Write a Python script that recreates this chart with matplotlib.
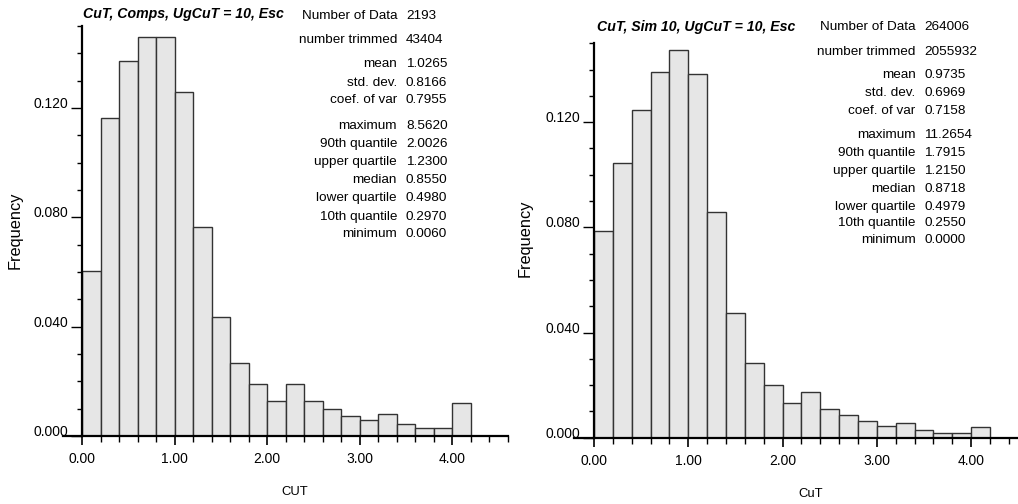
import matplotlib
matplotlib.use("Agg")
import matplotlib.pyplot as plt
from matplotlib import font_manager
from matplotlib.ticker import MultipleLocator, FixedLocator

# ---- data -------------------------------------------------------------
bin_width = 0.2
comps_freq = [0.0605, 0.1165, 0.1371, 0.1461, 0.1461, 0.1258, 0.0764, 0.0437,
              0.0267, 0.0191, 0.0129, 0.0191, 0.0129, 0.0100, 0.0072, 0.0057,
              0.0082, 0.0045, 0.0030, 0.0030, 0.0122]
sim_freq = [0.0787, 0.1046, 0.1245, 0.1390, 0.1473, 0.1384, 0.0858, 0.0476,
            0.0286, 0.0199, 0.0132, 0.0174, 0.0111, 0.0088, 0.0063, 0.0044,
            0.0057, 0.0029, 0.0019, 0.0019, 0.0039]

stat_names = ["Number of Data", "number trimmed", "mean", "std. dev.",
              "coef. of var", "maximum", "90th quantile", "upper quartile",
              "median", "lower quartile", "10th quantile", "minimum"]
comps_stats = ["2193", "43404", "1.0265", "0.8166", "0.7955", "8.5620",
               "2.0026", "1.2300", "0.8550", "0.4980", "0.2970", "0.0060"]
sim_stats = ["264006", "2055932", "0.9735", "0.6969", "0.7158", "11.2654",
             "1.7915", "1.2150", "0.8718", "0.4979", "0.2550", "0.0000"]

titles = ["CuT, Comps, UgCuT = 10, Esc", "CuT, Sim 10, UgCuT = 10, Esc"]
xlabels = ["CUT", "CuT"]
ylabel = "Frequency"
xtick_vals = [0, 1, 2, 3, 4]
ytick_vals = [0.0, 0.04, 0.08, 0.12]

# ---- fonts ------------------------------------------------------------
available = {f.name for f in font_manager.fontManager.ttflist}
FONT = "Liberation Sans Narrow" if "Liberation Sans Narrow" in available else "Liberation Sans"
plt.rcParams["font.family"] = [FONT, "DejaVu Sans"]
NARROW = FONT.endswith("Narrow")
TICK_FS = 11.5 if NARROW else 10
STAT_FS = 11 if NARROW else 9.7
TITLE_FS = 12 if NARROW else 10.2
XLAB_FS = 11 if NARROW else 9.4
YLAB_FS = 13.5 if NARROW else 11.8

W, H = 1018, 504
fig = plt.figure(figsize=(W / 100, H / 100), dpi=100)


def fx(px):
    return px / W


def fy(py):
    return 1 - py / H


def draw_panel(rect, freqs, stats, title, xlabel, title_xy, stat_x, stat_y,
               xlabel_xy, ylabel_xy):
    ax = fig.add_axes(rect)
    lefts = [i * bin_width for i in range(len(freqs))]
    ax.bar(lefts, freqs, width=bin_width, align="edge", color="#e6e6e6",
           edgecolor="#333333", linewidth=1.0, zorder=2)
    ax.set_xlim(0, 4.6)
    ax.set_ylim(0, 0.150)
    for s in ("top", "right"):
        ax.spines[s].set_visible(False)
    for s in ("left", "bottom"):
        ax.spines[s].set_linewidth(1.6)
        ax.spines[s].set_zorder(3)

    ax.xaxis.set_major_locator(FixedLocator(xtick_vals))
    ax.xaxis.set_minor_locator(MultipleLocator(0.2))
    ax.set_xticklabels([f"{v:.2f}" for v in xtick_vals])
    ax.yaxis.set_major_locator(FixedLocator(ytick_vals))
    ax.yaxis.set_minor_locator(MultipleLocator(0.01))
    ax.set_yticklabels([f"{v:.3f}" for v in ytick_vals])
    ax.tick_params(axis="x", which="major", length=6.5, width=1.2, pad=5,
                   labelsize=TICK_FS)
    ax.tick_params(axis="x", which="minor", length=4.5, width=1.0)
    ax.tick_params(axis="y", which="major", length=8, width=1.0, pad=2,
                   labelsize=TICK_FS)
    ax.tick_params(axis="y", which="minor", length=3.6, width=1.0)
    for lab in ax.get_yticklabels():
        lab.set_verticalalignment("baseline")

    # x axis line carried a little past the y axis
    ax.plot([-0.045, 0], [0, 0], transform=ax.transAxes, color="black",
            lw=1.6, clip_on=False, zorder=3)

    fig.text(fx(title_xy[0]), fy(title_xy[1]), title, ha="center", va="center",
             fontsize=TITLE_FS, fontweight="bold", fontstyle="italic")
    for name, val, y in zip(stat_names, stats, stat_y):
        fig.text(fx(stat_x[0]), fy(y), name, ha="right", va="center",
                 fontsize=STAT_FS)
        fig.text(fx(stat_x[1]), fy(y), val, ha="left", va="center",
                 fontsize=STAT_FS)
    fig.text(fx(xlabel_xy[0]), fy(xlabel_xy[1]), xlabel, ha="center",
             va="center", fontsize=XLAB_FS)
    fig.text(fx(ylabel_xy[0]), fy(ylabel_xy[1]), ylabel, ha="center",
             va="center", rotation=90, fontsize=YLAB_FS)
    return ax


left_rows = [15.7, 40, 64.3, 82.7, 100, 126, 144, 162.3, 180.3, 198.3, 216.7, 233.7]
right_rows = [26.7, 51.7, 75, 93.3, 111, 135, 152.7, 170.7, 188.7, 206.7, 222.7, 240]

draw_panel([fx(82), 1 - 436 / H, fx(426), 410 / H], comps_freq, comps_stats,
           titles[0], xlabels[0], (183, 14), (397, 406), left_rows,
           (295, 491.7), (15, 230))
draw_panel([fx(594), 1 - 437.7 / H, fx(433.8), 394.4 / H], sim_freq, sim_stats,
           titles[1], xlabels[1], (696, 26.7), (915.7, 924.3), right_rows,
           (810.8, 494), (525, 238.5))

fig.savefig("out.png", dpi=100)
